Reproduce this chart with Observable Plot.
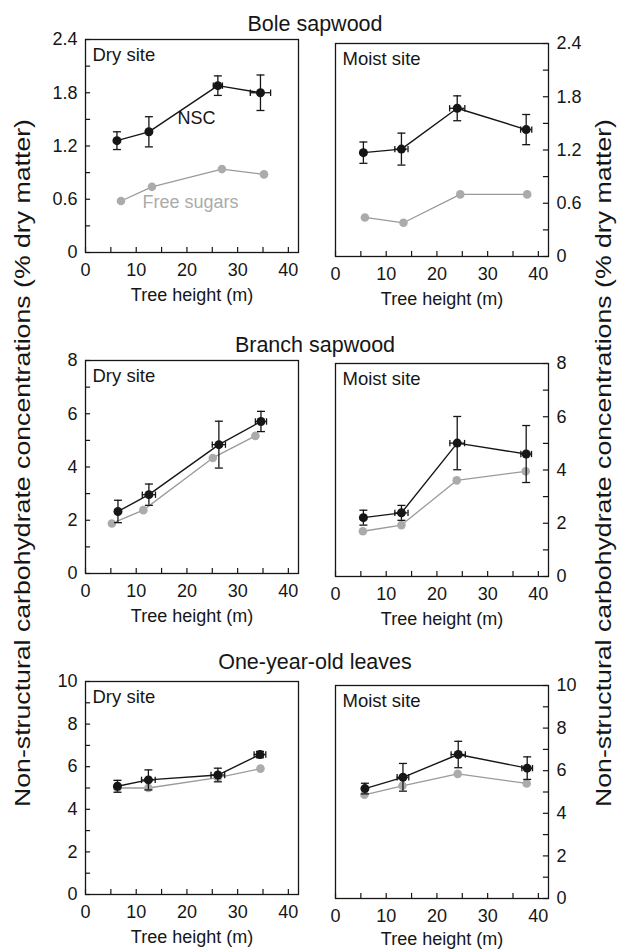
<!DOCTYPE html>
<html><head><meta charset="utf-8">
<script src="https://cdn.jsdelivr.net/npm/d3@7"></script>
<script src="https://cdn.jsdelivr.net/npm/@observablehq/plot@0.6"></script>
<style>
body{margin:0;background:#fff;}
#root{position:relative;width:622px;height:949px;overflow:hidden;font-family:"Liberation Sans",Arial,Helvetica,sans-serif;}
.panel{position:absolute}
#overlay{position:absolute;left:0;top:0;pointer-events:none}
</style></head><body><div id="root"></div>
<script>
// ---------- labels & ticks ----------
const tissues = ["Bole sapwood", "Branch sapwood", "One-year-old leaves"];
const sites = ["Dry site", "Moist site"];
const yMaxByTissue = [2.4, 8, 10];
const yMajorTicks = [[0, 0.6, 1.2, 1.8, 2.4], [0, 2, 4, 6, 8], [0, 2, 4, 6, 8, 10]];
const yMinorTicks = [[0.3, 0.9, 1.5, 2.1], [1, 3, 5, 7], [1, 3, 5, 7, 9]];
const yTickLabels = [["0", "0.6", "1.2", "1.8", "2.4"], ["0", "2", "4", "6", "8"], ["0", "2", "4", "6", "8", "10"]];
const xMax = 42;
const xMajorTicks = [0, 10, 20, 30, 40];
const xMinorTicks = [5, 15, 25, 35];
const xLabel = "Tree height (m)";
const yLabel = "Non-structural carbohydrate concentrations (% dry matter)";

// ---------- data: NSC (black, with SE) and free sugars (grey) ----------
// Bole sapwood, dry site
const boleDryHeight = [6.2, 12.5, 26.1, 34.5];
const boleDryHeightErr = [0, 0, 0.9, 2.0];
const boleDryNSC = [1.26, 1.36, 1.88, 1.80];
const boleDryNSCErr = [0.10, 0.17, 0.11, 0.20];
const boleDrySugarHeight = [7.0, 13.1, 26.9, 35.2];
const boleDrySugar = [0.58, 0.74, 0.94, 0.88];
// Bole sapwood, moist site
const boleMoistHeight = [5.5, 13.0, 24.0, 37.6];
const boleMoistHeightErr = [0, 1.3, 1.5, 1.1];
const boleMoistNSC = [1.17, 1.21, 1.67, 1.43];
const boleMoistNSCErr = [0.12, 0.18, 0.14, 0.17];
const boleMoistSugarHeight = [5.8, 13.4, 24.6, 37.8];
const boleMoistSugar = [0.44, 0.38, 0.70, 0.70];
// Branch sapwood, dry site
const branchDryHeight = [6.4, 12.5, 26.3, 34.6];
const branchDryHeightErr = [0, 1.3, 1.3, 1.1];
const branchDryNSC = [2.33, 2.96, 4.84, 5.71];
const branchDryNSCErr = [0.42, 0.40, 0.88, 0.38];
const branchDrySugarHeight = [5.2, 11.4, 25.1, 33.5];
const branchDrySugar = [1.88, 2.38, 4.34, 5.17];
// Branch sapwood, moist site
const branchMoistHeight = [5.5, 13.0, 24.0, 37.6];
const branchMoistHeightErr = [0, 1.3, 1.45, 1.05];
const branchMoistNSC = [2.21, 2.39, 5.01, 4.60];
const branchMoistNSCErr = [0.28, 0.28, 1.0, 1.07];
const branchMoistSugarHeight = [5.4, 13.0, 23.9, 37.5];
const branchMoistSugar = [1.70, 1.93, 3.61, 3.95];
// One-year-old leaves, dry site
const leafDryHeight = [6.3, 12.4, 26.1, 34.4];
const leafDryHeightErr = [0, 1.35, 1.35, 1.15];
const leafDryNSC = [5.08, 5.38, 5.61, 6.57];
const leafDryNSCErr = [0.28, 0.47, 0.32, 0.15];
const leafDrySugarHeight = [6.3, 12.4, 26.1, 34.5];
const leafDrySugar = [5.00, 5.00, 5.49, 5.91];
// One-year-old leaves, moist site
const leafMoistHeight = [5.8, 13.3, 24.2, 37.8];
const leafMoistHeightErr = [0, 1.15, 1.4, 1.05];
const leafMoistNSC = [5.16, 5.69, 6.76, 6.12];
const leafMoistNSCErr = [0.25, 0.65, 0.62, 0.53];
const leafMoistSugarHeight = [5.7, 13.2, 24.1, 37.7];
const leafMoistSugar = [4.87, 5.29, 5.85, 5.40];

// in-panel series labels (Bole sapwood, dry site)
const annotText = ["NSC", "Free sugars"];
const annotX = [21.9, 20.7];
const annotY = [1.51, 0.57];

// ---------- assemble ----------
const panelsData = [
  [[boleDryHeight, boleDryHeightErr, boleDryNSC, boleDryNSCErr, boleDrySugarHeight, boleDrySugar],
   [boleMoistHeight, boleMoistHeightErr, boleMoistNSC, boleMoistNSCErr, boleMoistSugarHeight, boleMoistSugar]],
  [[branchDryHeight, branchDryHeightErr, branchDryNSC, branchDryNSCErr, branchDrySugarHeight, branchDrySugar],
   [branchMoistHeight, branchMoistHeightErr, branchMoistNSC, branchMoistNSCErr, branchMoistSugarHeight, branchMoistSugar]],
  [[leafDryHeight, leafDryHeightErr, leafDryNSC, leafDryNSCErr, leafDrySugarHeight, leafDrySugar],
   [leafMoistHeight, leafMoistHeightErr, leafMoistNSC, leafMoistNSCErr, leafMoistSugarHeight, leafMoistSugar]]
];

const FONT = '"Liberation Sans", Arial, Helvetica, sans-serif';
const INK = "#161616";
const GREY_DOT = "#ababab";
const GREY_LINE = "#9a9a9a";

const hCap = {draw(ctx, size) { const r = Math.sqrt(size / Math.PI); ctx.moveTo(-r, 0); ctx.lineTo(r, 0); }};
const vCap = {draw(ctx, size) { const r = Math.sqrt(size / Math.PI); ctx.moveTo(0, -r); ctx.lineTo(0, r); }};

// frame placement (frame top-left corner in page pixels)
const frameLeft = [85, 335];
const frameTop = [[39, 43], [360, 363], [681, 685]];
const FW = 213, FH = 213;

const root = document.getElementById("root");

for (let r = 0; r < 3; r++) {
  for (let c = 0; c < 2; c++) {
    const [hx, hxe, nsc, nsce, sx, sv] = panelsData[r][c];
    const nscData = hx.map((h, i) => ({h, he: hxe[i], v: nsc[i], e: nsce[i]}));
    const sugData = sx.map((h, i) => ({h, v: sv[i]}));
    const yMax = yMaxByTissue[r];
    const left = c === 0;
    const mL = left ? 50 : 10, mR = left ? 10 : 50, mT = 6, mB = 62;
    const tickFrac = 0.024;
    const titleDy = (r === 2 && c === 1) ? 46 : 48.5;
    const marks = [
      Plot.frame({stroke: INK, strokeWidth: 1.3}),
      Plot.ruleX(xMajorTicks.concat(xMinorTicks), {x: d => d, y1: 0, y2: yMax * tickFrac, stroke: INK, strokeWidth: 1.2}),
      Plot.ruleY(yMajorTicks[r].concat(yMinorTicks[r]), {y: d => d, x1: left ? 0 : xMax, x2: left ? xMax * tickFrac : xMax * (1 - tickFrac), stroke: INK, strokeWidth: 1.2}),
      Plot.text(xMajorTicks, {x: d => d, frameAnchor: "bottom", dy: 11, lineAnchor: "top", text: d => String(d), fontSize: 18, fill: INK}),
      Plot.text(yMajorTicks[r], {y: d => d, frameAnchor: left ? "left" : "right", dx: left ? -8 : 8, textAnchor: left ? "end" : "start", text: (d, i) => yTickLabels[r][i], fontSize: 18, fill: INK}),
      Plot.text([xLabel], {frameAnchor: "bottom", dy: titleDy, lineAnchor: "bottom", text: d => d, fontSize: 18, fill: INK}),
      Plot.text([sites[c]], {frameAnchor: "top-left", dx: 7, dy: 8, lineAnchor: "top", textAnchor: "start", text: d => d, fontSize: 18.5, fill: INK}),
      // free sugars
      Plot.line(sugData, {x: "h", y: "v", stroke: GREY_LINE, strokeWidth: 1.3}),
      Plot.dot(sugData, {x: "h", y: "v", r: 4.3, fill: GREY_DOT, stroke: "none"}),
      // NSC error bars
      Plot.ruleX(nscData, {x: "h", y1: d => d.v - d.e, y2: d => d.v + d.e, stroke: INK, strokeWidth: 1.3}),
      Plot.dot(nscData, {x: "h", y: d => d.v + d.e, symbol: hCap, r: 4, fill: "none", stroke: INK, strokeWidth: 1.3}),
      Plot.dot(nscData, {x: "h", y: d => d.v - d.e, symbol: hCap, r: 4, fill: "none", stroke: INK, strokeWidth: 1.3}),
      Plot.ruleY(nscData.filter(d => d.he > 0), {y: "v", x1: d => d.h - d.he, x2: d => d.h + d.he, stroke: INK, strokeWidth: 1.3}),
      Plot.dot(nscData.filter(d => d.he > 0), {x: d => d.h - d.he, y: "v", symbol: vCap, r: 3.2, fill: "none", stroke: INK, strokeWidth: 1.3}),
      Plot.dot(nscData.filter(d => d.he > 0), {x: d => d.h + d.he, y: "v", symbol: vCap, r: 3.2, fill: "none", stroke: INK, strokeWidth: 1.3}),
      Plot.line(nscData, {x: "h", y: "v", stroke: INK, strokeWidth: 1.4}),
      Plot.dot(nscData, {x: "h", y: "v", r: 4.5, fill: INK, stroke: "none"})
    ];
    if (r === 0 && c === 0) {
      marks.push(Plot.text(annotText, {x: (d, i) => annotX[i], y: (d, i) => annotY[i], text: d => d, fontSize: 18,
        fill: (d, i) => i === 0 ? INK : GREY_DOT}));
    }
    const chart = Plot.plot({
      width: mL + FW + mR,
      height: mT + FH + mB,
      marginLeft: mL, marginRight: mR, marginTop: mT, marginBottom: mB,
      style: {fontFamily: FONT, background: "transparent", overflow: "visible"},
      x: {domain: [0, xMax], axis: null},
      y: {domain: [0, yMax], axis: null},
      color: {type: "identity"},
      marks
    });
    const div = document.createElement("div");
    div.className = "panel";
    div.style.left = (frameLeft[c] - mL) + "px";
    div.style.top = (frameTop[r][c] - mT) + "px";
    div.appendChild(chart);
    root.appendChild(div);
  }
}

// overlay for titles & y-axis labels
const svg = d3.select(root).append("svg").attr("id", "overlay").attr("width", 622).attr("height", 949)
  .style("font-family", FONT);
const titleBaseline = [31, 352, 669];
tissues.forEach((t, i) => {
  svg.append("text").attr("x", 315).attr("y", titleBaseline[i]).attr("text-anchor", "middle")
    .attr("font-size", 21.5).attr("fill", INK).text(t);
});
[[22, 463], [603, 463]].forEach(([x, y]) => {
  svg.append("text").attr("transform", `translate(${x},${y}) rotate(-90)`).attr("text-anchor", "middle")
    .attr("dy", "0.35em").attr("font-size", 21.5).attr("fill", INK)
    .attr("textLength", 688).attr("lengthAdjust", "spacingAndGlyphs").text(yLabel);
});
</script></body></html>
